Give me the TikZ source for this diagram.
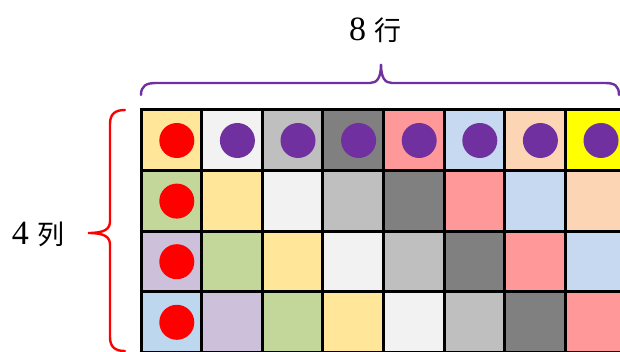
\documentclass[tikz,border=0pt]{standalone}
\usepackage{fontspec}
\setmainfont{Liberation Serif}
\newfontfamily\cjk{Noto Sans CJK SC}
\definecolor{cA}{HTML}{BDD7EE}
\definecolor{cB}{HTML}{CCC0DA}
\definecolor{cC}{HTML}{C4D79B}
\definecolor{cD}{HTML}{FFE699}
\definecolor{cE}{HTML}{F2F2F2}
\definecolor{cF}{HTML}{BFBFBF}
\definecolor{cG}{HTML}{808080}
\definecolor{cH}{HTML}{FF9999}
\definecolor{cI}{HTML}{C6D9F1}
\definecolor{cJ}{HTML}{FCD5B5}
\definecolor{cK}{HTML}{FFFF00}
\definecolor{dotpurple}{HTML}{7030A0}
\definecolor{dotred}{HTML}{FF0000}
\tikzset{
  gridline/.style={line width=3pt, black},
  bracepurple/.style={line width=2.4pt, dotpurple, line cap=round},
  bracered/.style={line width=2.4pt, dotred, line cap=round},
  labeltext/.style={inner sep=0pt, text=black}
}
\begin{document}
\begin{tikzpicture}[x=1pt,y=-1pt]
\useasboundingbox (0,0) rectangle (620,352);
\def\cw{60.6}
\begin{scope}
\clip (0,0) rectangle (620,352);
% cells
\foreach \r in {0,1,2,3}{
  \foreach \c in {0,...,7}{
    \pgfmathtruncatemacro{\k}{3-\r+\c}
    \pgfmathsetmacro{\colname}{{"cA","cB","cC","cD","cE","cF","cG","cH","cI","cJ","cK"}[\k]}
    \fill[\colname] (141+\c*\cw,110+\r*\cw) rectangle (141+\c*\cw+\cw,110+\r*\cw+\cw);
  }
}
% grid lines
\foreach \c in {0,...,8}{
  \draw[gridline] (141+\c*\cw,110) -- (141+\c*\cw,360);
}
\foreach \r in {0,...,4}{
  \draw[gridline] (139.5,110+\r*\cw) -- (630,110+\r*\cw);
}
% dots
\foreach \c in {1,...,7}{
  \fill[dotpurple] (141+\c*\cw+0.5*\cw+5.5,140.5) circle (17.5);
}
\foreach \r in {0,...,3}{
  \fill[dotred] (141+0.5*\cw+5.5,140.5+\r*\cw) circle (17.5);
}
% braces
\draw[bracepurple] (141,95) .. controls (141,86) and (146,83) .. (156,83) -- (370,83)
  .. controls (377,83) and (381,78) .. (381,64)
  .. controls (381,78) and (385,83) .. (392,83) -- (605,83)
  .. controls (615,83) and (619,86) .. (619,95);
\draw[bracered] (125,110) .. controls (115,110) and (110,114) .. (110,124) -- (110,221)
  .. controls (110,229) and (105,233) .. (88,233)
  .. controls (105,233) and (110,237) .. (110,245) -- (110,337)
  .. controls (110,347) and (115,351) .. (125,351);
\end{scope}
\node[labeltext] (cols) at (375,30) {\fontsize{34}{34}\selectfont 8\hspace{8pt}{\cjk\fontsize{27}{27}\selectfont 行}};
\node[labeltext] (rows) at (38,234) {\fontsize{34}{34}\selectfont 4\hspace{8pt}{\cjk\fontsize{27}{27}\selectfont 列}};
\end{tikzpicture}
\end{document}
